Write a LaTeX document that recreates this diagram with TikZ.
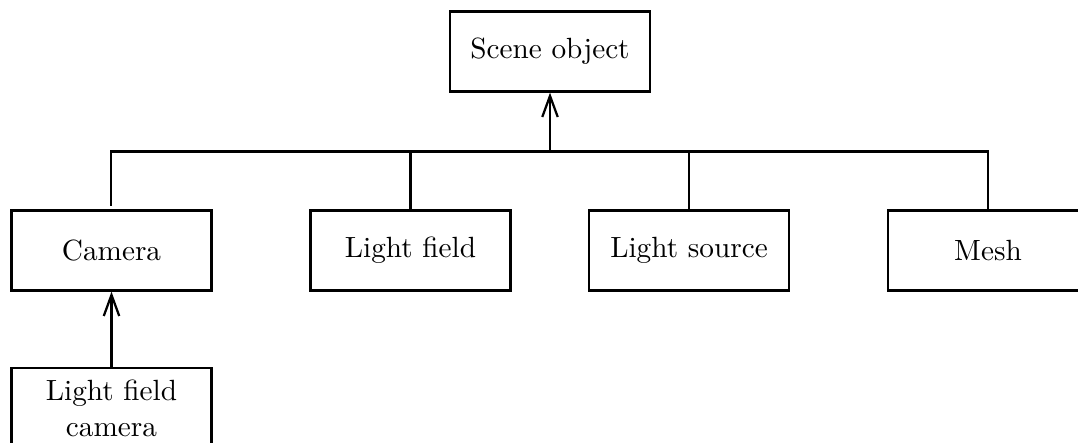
\documentclass[tikz,border=0pt]{standalone}
\usetikzlibrary{arrows.meta}
\begin{document}
\begin{tikzpicture}[x=0.0125cm,y=-0.0125cm,
  box/.style={draw,line width=0.8pt,minimum width=2.5cm,minimum height=1cm,inner sep=3pt,align=center,font=\fontsize{10.4}{12.8}\selectfont},
  conn/.style={line width=0.8pt},
  arr/.style={line width=0.8pt,-{Straight Barb[length=7.5pt,width=5.5pt,line width=0.8pt]}}]
\useasboundingbox (0,0) rectangle (1078,443);
\node[box] (scene) at (550,51.5) {Scene object};
\node[box] (camera) at (111.5,250.5) {Camera};
\node[box] (lfield) at (410.5,250.5) {Light field};
\node[box] (lsource) at (689,250.5) {Light source};
\node[box] (mesh) at (988,250.5) {Mesh};
\node[box] (lfcam) at (111.5,408) {Light field\\camera};
\coordinate (bus) at (550,151.5);
\coordinate (camtop) at (111,206);
\draw[conn] (camtop) |- (bus);
\draw[conn] (lfield.north) |- (bus);
\draw[conn] (lsource.north) |- (bus);
\draw[conn] (mesh.north) |- (bus);
\draw[arr] (bus) -- (scene.south);
\draw[arr] (lfcam.north) -- (camera.south);
\end{tikzpicture}
\end{document}
